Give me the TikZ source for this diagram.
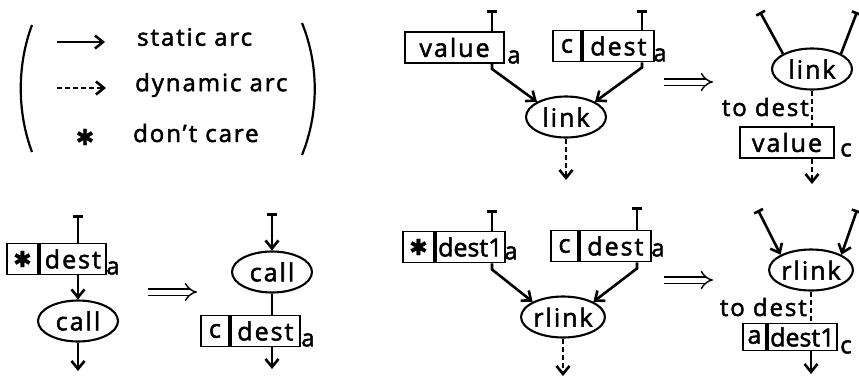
\documentclass[tikz,border=0pt]{standalone}
\usepackage{fontspec}
\setmainfont{Open Sans}[LetterSpace=8, FakeBold=2]
\newfontfamily\symfont{DejaVu Sans}[FakeBold=1.2]
\usetikzlibrary{arrows.meta,shapes.geometric}
\tikzset{
  cell/.style={draw, line width=1.9pt, minimum height=31pt, inner sep=0pt, font=\fontsize{25}{27}\selectfont},
  tight/.style={font=\fontsize{25}{27}\selectfont\addfontfeature{LetterSpace=0}},
  op/.style={draw, ellipse, line width=2.1pt, minimum width=80pt, minimum height=41pt, inner sep=0pt, font=\fontsize{25}{27}\selectfont},
  plain/.style={line width=2.6pt},
  arc/.style={plain, -{Straight Barb[length=8pt,width=13pt]}},
  dynarc/.style={arc, dash pattern=on 5pt off 3pt},
  dynline/.style={plain, dash pattern=on 5pt off 3pt},
  tbar/.style={plain, {Bar[width=10pt]}-},
  tarc/.style={plain, {Bar[width=10pt]}-{Straight Barb[length=8pt,width=13pt]}},
  impl/.style={line width=1.4pt, double distance=5pt, -{Implies}},
  lbl/.style={font=\fontsize{24}{26}\selectfont, inner sep=0pt},
  sub/.style={font=\fontsize{24}{26}\selectfont, inner sep=0pt}
}
\newcommand{\dc}{{\symfont\fontsize{22}{22}\selectfont ✱}}
\begin{document}
\begin{tikzpicture}[x=1pt, y=-1pt]
  \useasboundingbox (0,0) rectangle (859,378);
  % legend
  \draw[line width=2.2pt] (32,25) .. controls (17,65) and (17,112) .. (32,152);
  \draw[line width=2.2pt] (302,23) .. controls (319,65) and (319,113) .. (302,155);
  \coordinate (st0) at (57,42);
  \coordinate (st1) at (105,42);
  \draw[arc] (st0) -- (st1);
  \node[lbl, anchor=west] (stat) at (137,37) {static arc};
  \coordinate (dy0) at (57,88);
  \coordinate (dy1) at (106,88);
  \draw[dynarc] (dy0) -- (dy1);
  \node[lbl, anchor=west] (dyn) at (135,85) {dynamic arc};
  \node[lbl] (star) at (85,137) {\dc};
  \node[lbl, anchor=west] (dcare) at (133,133) {don't care};

  % call, before
  \node[cell, minimum width=31pt, anchor=west] (sds) at (6,259) {\dc};
  \node[cell, minimum width=66pt, anchor=west] (sdd) at (sds.east) {dest};
  \node[sub] (sda) at (113,268) {a};
  \coordinate (sdin) at (78,215);
  \draw[tbar] (sdin) -- (sdin |- sdd.north);
  \node[op] (cl) at (78,321) {call};
  \draw[arc] (sdin |- sdd.south) -- (cl);
  \coordinate (clout) at (78,371);
  \draw[arc] (cl) -- (clout);
  \coordinate (imp2a) at (148,292);
  \coordinate (imp2b) at (197,292);
  \draw[impl] (imp2a) -- (imp2b);
  % call, after
  \coordinate (cl2in) at (272,213);
  \node[op] (cl2) at (272,272) {call};
  \draw[tarc] (cl2in) -- (cl2);
  \node[cell, minimum width=28pt, anchor=west] (cdc2) at (200,331) {c};
  \node[cell, minimum width=69pt, anchor=west] (cdd2) at (cdc2.east) {dest};
  \node[sub] (cda2) at (308,340) {a};
  \draw[plain] (cl2) -- (cl2 |- cdd2.north);
  \coordinate (cl2out) at (272,369);
  \draw[arc] (cl2 |- cdd2.south) -- (cl2out);

  % link, before
  \node[cell, minimum width=99pt] (val) at (454.5,47.5) {value};
  \node[sub] (vala) at (514,57) {a};
  \coordinate (valin) at (492,10);
  \draw[tbar] (valin) -- (valin |- val.north);
  \node[cell, minimum width=28pt, anchor=west] (cdc) at (552,46) {c};
  \node[cell, minimum width=71pt, anchor=west] (cdd) at (cdc.east) {dest};
  \node[sub] (cda) at (660,55) {a};
  \coordinate (cdin) at (642,10);
  \draw[tbar] (cdin) -- (cdin |- cdd.north);
  \node[op] (lk) at (566,117) {link};
  \draw[arc] (valin |- val.south) -- ++(0,5) -- (lk.north west);
  \draw[arc] (cdin |- cdd.south) -- ++(0,5) -- (lk.north east);
  \coordinate (lkout) at (566,180);
  \draw[dynarc] (lk) -- (lkout);
  \coordinate (imp1a) at (664,82);
  \coordinate (imp1b) at (713,82);
  \draw[impl] (imp1a) -- (imp1b);
  % link, after
  \node[op] (lk2) at (812,69) {link};
  \coordinate (lk2in1) at (760,12);
  \coordinate (lk2in2) at (857,12);
  \draw[tbar] (lk2in1) -- (lk2.north west);
  \draw[tbar] (lk2in2) -- (lk2.north east);
  \node[cell, minimum width=94pt] (val2) at (787,142.5) {value};
  \node[sub] (val2c) at (846,150) {c};
  \draw[dynline] (lk2) -- (lk2 |- val2.north);
  \node[lbl, anchor=east] (todest1) at (809,107) {to dest};
  \coordinate (val2out) at (812,184);
  \draw[dynarc] (lk2 |- val2.south) -- (val2out);

  % rlink, before
  \node[cell, minimum width=31pt, anchor=west] (sds2) at (402,247) {\dc};
  \node[cell, tight, minimum width=69pt, anchor=west] (sdd2) at (sds2.east) {dest1};
  \node[sub] (sda2) at (511,253) {a};
  \coordinate (sd2in) at (492,210);
  \draw[tbar] (sd2in) -- (sd2in |- sdd2.north);
  \node[cell, minimum width=27pt, anchor=west] (cdc3) at (550,246) {c};
  \node[cell, minimum width=71pt, anchor=west] (cdd3) at (cdc3.east) {dest};
  \node[sub] (cda3) at (658,250) {a};
  \coordinate (cd3in) at (637,207);
  \draw[tbar] (cd3in) -- (cd3in |- cdd3.north);
  \node[op] (rl) at (563,317) {rlink};
  \draw[arc] (sd2in |- sdd2.south) -- ++(0,6) -- (rl.north west);
  \draw[arc] (cd3in |- cdd3.south) -- ++(0,6) -- (rl.north east);
  \coordinate (rlout) at (563,376);
  \draw[dynarc] (rl) -- (rlout);
  \coordinate (imp3a) at (664,280);
  \coordinate (imp3b) at (713,280);
  \draw[impl] (imp3a) -- (imp3b);
  % rlink, after
  \node[op] (rl2) at (811,270) {rlink};
  \coordinate (rl2in1) at (758,210);
  \coordinate (rl2in2) at (857,210);
  \draw[tarc] (rl2in1) -- (rl2.north west);
  \draw[tarc] (rl2in2) -- (rl2.north east);
  \node[cell, minimum width=23pt, minimum height=27pt, anchor=west] (adc) at (742,337) {a};
  \node[cell, tight, minimum width=69pt, minimum height=27pt, anchor=west] (add) at (adc.east) {dest1};
  \node[sub] (addc) at (846,347) {c};
  \draw[dynline] (rl2) -- (rl2 |- add.north);
  \node[lbl, anchor=east] (todest2) at (807,307) {to dest};
  \coordinate (rl2out) at (811,374);
  \draw[arc] (rl2 |- add.south) -- (rl2out);
\end{tikzpicture}
\end{document}
